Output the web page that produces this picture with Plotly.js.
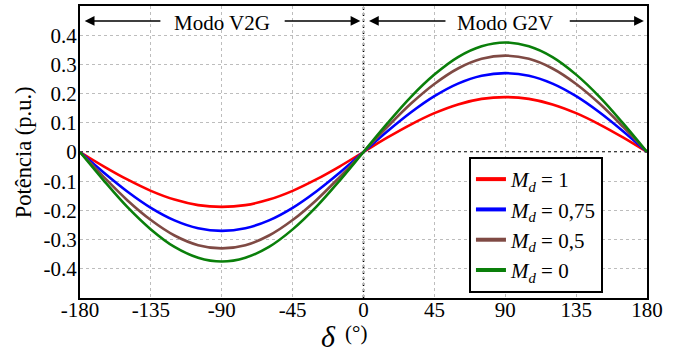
<!DOCTYPE html>
<html>
<head>
<meta charset="utf-8">
<script src="https://cdn.plot.ly/plotly-3.0.1.min.js"></script>
<style>html,body{margin:0;padding:0;background:#fff;}#chart{width:680px;height:352px;}</style>
</head>
<body>
<div id="chart"></div>
<script>
const delta = [-180,-165,-150,-135,-120,-105,-90,-75,-60,-45,-30,-15,0,15,30,45,60,75,90,105,120,135,150,165,180];
const pMd1   = [0,-0.049,-0.094,-0.133,-0.163,-0.182,-0.188,-0.182,-0.163,-0.133,-0.094,-0.049,0,0.049,0.094,0.133,0.163,0.182,0.188,0.182,0.163,0.133,0.094,0.049,0];
const pMd075 = [0,-0.070,-0.135,-0.191,-0.234,-0.261,-0.270,-0.261,-0.234,-0.191,-0.135,-0.070,0,0.070,0.135,0.191,0.234,0.261,0.270,0.261,0.234,0.191,0.135,0.070,0];
const pMd05  = [0,-0.085,-0.165,-0.233,-0.286,-0.319,-0.330,-0.319,-0.286,-0.233,-0.165,-0.085,0,0.085,0.165,0.233,0.286,0.319,0.330,0.319,0.286,0.233,0.165,0.085,0];
const pMd0   = [0,-0.097,-0.188,-0.265,-0.325,-0.362,-0.375,-0.362,-0.325,-0.265,-0.188,-0.097,0,0.097,0.188,0.265,0.325,0.362,0.375,0.362,0.325,0.265,0.188,0.097,0];
const seriesNames = ['<i>M<sub>d</sub></i> = 1','<i>M<sub>d</sub></i> = 0,75','<i>M<sub>d</sub></i> = 0,5','<i>M<sub>d</sub></i> = 0'];
const seriesColors = ['#ff0000','#0000ff','#7f4a44','#0a7f0a'];
const xTicks = [-180,-135,-90,-45,0,45,90,135,180];
const yTicks = [-0.4,-0.3,-0.2,-0.1,0,0.1,0.2,0.3,0.4];
const yTickText = ['-0.4','-0.3','-0.2','-0.1','0','0.1','0.2','0.3','0.4'];

const FONT = 'Liberation Serif';

const ys = [pMd1,pMd075,pMd05,pMd0];
const traces = ys.map((y,i)=>({
  x: delta, y: y, type:'scatter', mode:'lines', name: seriesNames[i], showlegend:false,
  line:{color:seriesColors[i], width:2.6, shape:'spline', smoothing:1.0}
}));
// legend entries with thicker swatches
seriesNames.forEach((n,i)=>traces.push({
  x:[null], y:[null], type:'scatter', mode:'lines', name:n, showlegend:true,
  line:{color:seriesColors[i], width:4}
}));

const ann = [];
function arrow(x, ax, yv){
  ann.push({x:x, y:yv, ax:ax, ay:yv, xref:'x', yref:'y', axref:'x', ayref:'y',
    text:'', showarrow:true, arrowhead:2, arrowsize:1.3, arrowwidth:1.5, arrowcolor:'#000'});
}
arrow(-177, -128, 0.449);
arrow(-2, -51, 0.449);
arrow(3.5, 53, 0.449);
arrow(178, 130, 0.449);
ann.push({x:-90, y:0.443, xref:'x', yref:'y', text:'Modo V2G', showarrow:false, font:{family:FONT, size:21, color:'#000'}});
ann.push({x:90, y:0.443, xref:'x', yref:'y', text:'Modo G2V', showarrow:false, font:{family:FONT, size:21, color:'#000'}});
ann.push({x:-22, y:-0.5, xref:'x', yref:'y', xanchor:'center', yanchor:'middle', yshift:-38,
  text:'<i>δ</i>', showarrow:false, font:{family:FONT, size:30, color:'#000'}});
ann.push({x:-13, y:-0.5, xref:'x', yref:'y', xanchor:'left', yanchor:'middle', yshift:-35,
  text:'(°)', showarrow:false, font:{family:FONT, size:21, color:'#000'}});
ann.push({x:-0.1, y:0.5, xref:'paper', yref:'paper', xanchor:'center', yanchor:'middle', textangle:-90,
  text:'Potência (p.u.)', showarrow:false, font:{family:FONT, size:22.5, color:'#000'}});

const layout = {
  width:680, height:352,
  margin:{l:80, r:33, t:6, b:54},
  paper_bgcolor:'#fff', plot_bgcolor:'#fff',
  font:{family:FONT, size:21, color:'#000'},
  showlegend:true,
  legend:{x:0.686, y:0.483, xanchor:'left', yanchor:'top', bgcolor:'#fff',
    bordercolor:'#000', borderwidth:2, font:{family:FONT, size:21, color:'#000'}, tracegroupgap:0, itemwidth:30},
  xaxis:{range:[-180,180], tickvals:xTicks, ticktext:xTicks.map(String), showgrid:true,
    gridcolor:'#bdbdbd', griddash:'dot', gridwidth:1, zeroline:false,
    showline:true, linecolor:'#000', linewidth:2, mirror:true, ticks:'', ticklen:0,
    ticklabelstandoff:-8,
    tickfont:{family:FONT, size:21, color:'#000'}},
  yaxis:{range:[-0.5,0.5], tickvals:yTicks, ticktext:yTickText, showgrid:true,
    gridcolor:'#bdbdbd', griddash:'dot', gridwidth:1, zeroline:false,
    showline:true, linecolor:'#000', linewidth:2, mirror:true, ticks:'',
    ticklabelstandoff:-3,
    tickfont:{family:FONT, size:21, color:'#000'}},
  shapes:[
    {type:'line', xref:'x', yref:'paper', x0:0, x1:0, y0:0, y1:1, line:{color:'#000', width:1.5, dash:'dot'}, layer:'below'},
    {type:'line', xref:'paper', yref:'y', x0:0, x1:1, y0:0, y1:0, line:{color:'#000', width:1.5, dash:'dot'}, layer:'below'}
  ],
  annotations:ann
};
Plotly.newPlot('chart', traces, layout, {displayModeBar:false, staticPlot:true});
</script>
</body>
</html>
